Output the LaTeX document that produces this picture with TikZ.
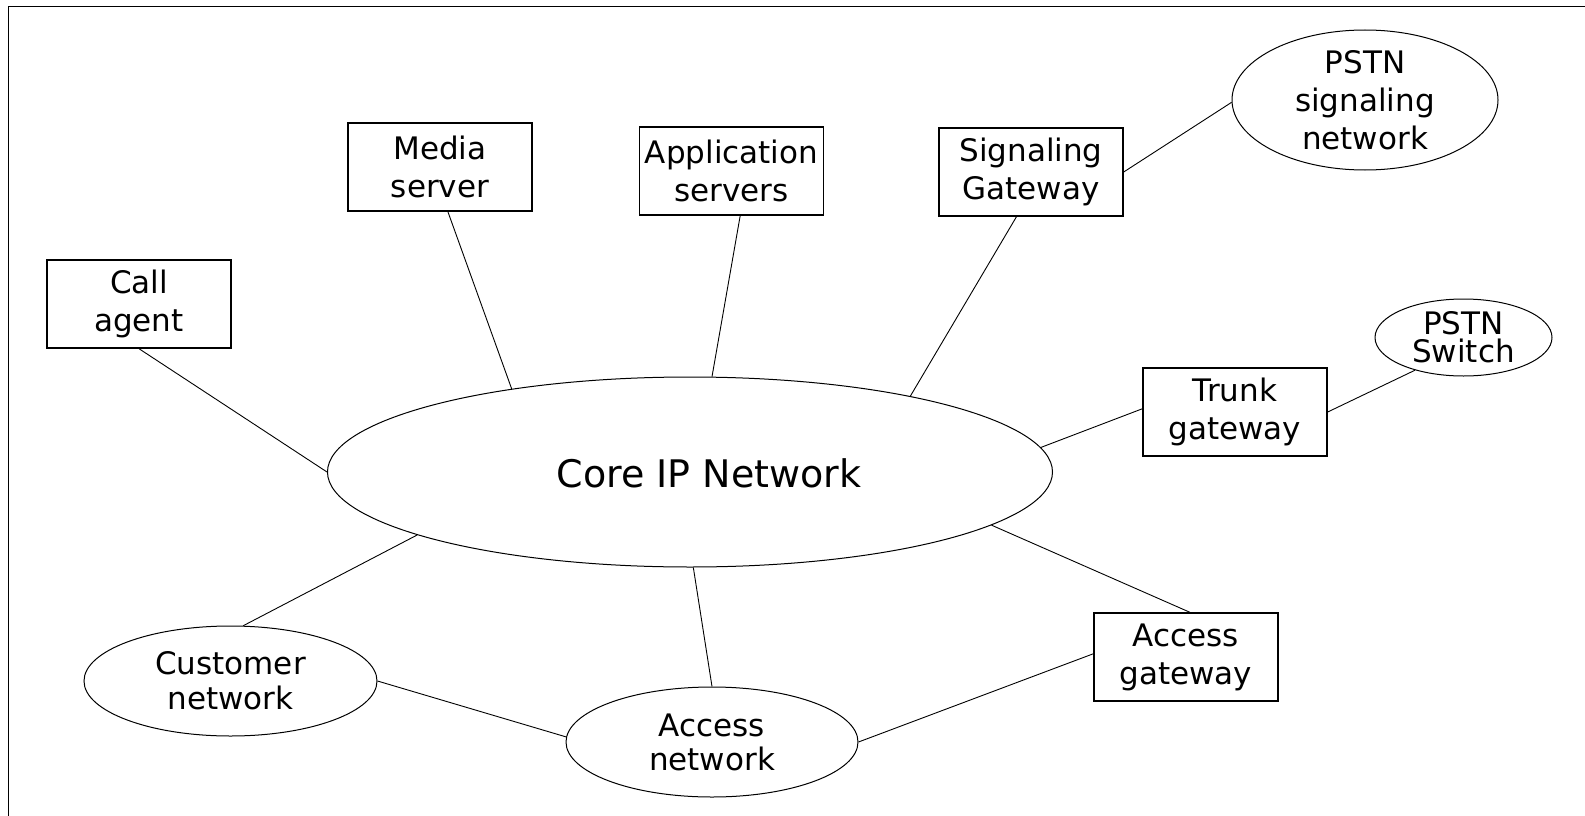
\documentclass[tikz,border=0pt]{standalone}
\usepackage{fontspec}
\setmainfont{DejaVu Sans}
\usetikzlibrary{shapes.geometric}
\begin{document}
\begin{tikzpicture}[x=1pt,y=-1pt,
  box/.style={draw, line width=1.4pt, minimum width=184pt, minimum height=88pt, inner sep=2pt, align=center, font=\fontsize{31}{38}\selectfont},
  oval/.style={draw, ellipse, line width=1pt, inner sep=0pt},
  lbl/.style={align=center, inner sep=0pt, font=\fontsize{31}{38}\selectfont},
  link/.style={line width=0.9pt}]
\useasboundingbox (0,0) rectangle (1585,816);
\draw[line width=1.6pt] (8.3,830) -- (8.3,6.7) -- (1600,6.7);

\node[box] (ca) at (139,304) {Call\\agent};
\node[box] (ms) at (440,167) {Media\\server};
\node[box] (as) at (731.5,171) {Application\\servers};
\node[box] (sg) at (1031,172) {Signaling\\Gateway};
\node[box] (tg) at (1235,412) {Trunk\\gateway};
\node[box] (ag) at (1186,657) {Access\\gateway};

\node[oval, minimum width=725pt, minimum height=190pt] (core) at (690,472) {};
\node[lbl, font=\fontsize{38}{44}\selectfont] (coret) at (709,473) {Core IP Network};

\node[oval, minimum width=266pt, minimum height=140pt] (pstnsig) at (1365,100) {};
\node[lbl] (pstnsigt) at (pstnsig.center) {PSTN\\signaling\\network};

\node[oval, minimum width=177pt, minimum height=77pt] (psw) at (1463.5,337.5) {};
\node[lbl, font=\fontsize{31}{28}\selectfont] (pswt) at (psw.center) {PSTN\\Switch};

\node[oval, minimum width=293pt, minimum height=110pt] (cust) at (230.5,681) {};
\node[lbl, font=\fontsize{31}{35}\selectfont] (custt) at (cust.center) {Customer\\network};

\node[oval, minimum width=292pt, minimum height=110pt] (anet) at (712,742) {};
\node[lbl, font=\fontsize{31}{34}\selectfont] (anett) at (anet.center) {Access\\network};

\draw[link] (ca.south) -- (core.west);
\draw[link] (ms.-80) -- (core.155);
\draw[link] (as.-79) -- (core.77);
\draw[link] (sg.-108) -- (core.19);
\draw[link] (sg.east) -- (pstnsig.181);
\draw[link] (core.4) -- (tg.178);
\draw[link] (tg.east) -- (psw.214);
\draw[link] (core.-10) -- (ag.85);
\draw[link] (anet.east) -- (ag.178);
\draw[link] (core.-88) -- (anet.north);
\draw[link] (core.193) -- (cust.77);
\draw[link] (cust.east) -- (anet.178);
\end{tikzpicture}
\end{document}
